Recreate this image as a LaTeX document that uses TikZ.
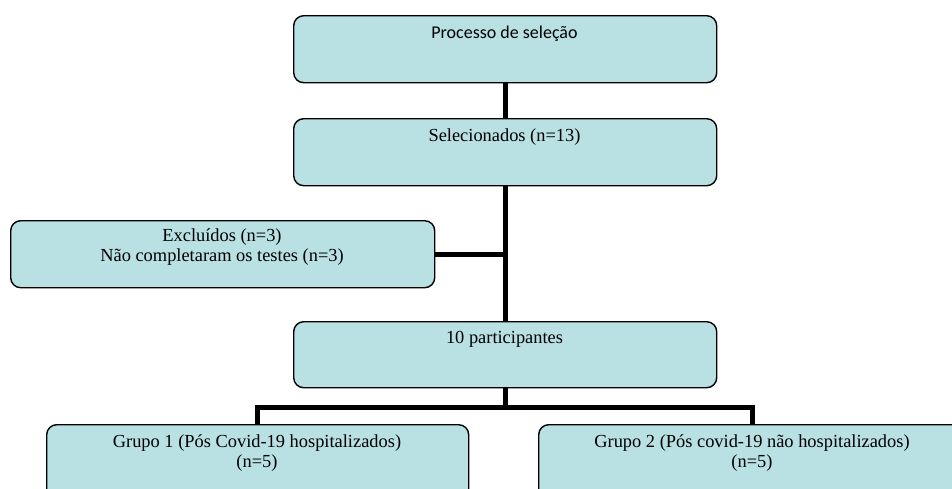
\documentclass[tikz,border=0pt]{standalone}
\usepackage{fontspec}
\setmainfont{Liberation Serif}
\newfontfamily\calib{Carlito}
\definecolor{boxfill}{RGB}{185,224,227}
\begin{document}
\begin{tikzpicture}[x=1pt,y=-1pt,
  fbox/.style={draw=black,line width=1.4pt,fill=boxfill,rounded corners=10pt,
    minimum width=423pt,minimum height=67pt,inner sep=0pt,anchor=north west},
  lbl/.style={align=center,inner sep=0pt,font=\fontsize{18.4}{20}\selectfont},
  conn/.style={line width=5pt}]
\useasboundingbox (0,0) rectangle (952,488);
\clip (0,0) rectangle (952,488);
\node[fbox] (proc) at (293,15) {};
\node[fbox] (sel) at (293,118) {};
\node[fbox,minimum width=424pt] (exc) at (10,220) {};
\node[fbox,minimum height=66pt] (part) at (293,321) {};
\node[fbox,minimum width=422pt,minimum height=75pt] (g1) at (46,424) {};
\node[fbox,minimum width=428pt,minimum height=75pt] (g2) at (538,424) {};

\node[lbl,font=\calib\fontsize{18}{20}\selectfont] (tproc) at (504.5,34) {Processo de seleção};
\node[lbl] (tsel) at (504.5,137) {Selecionados (n=13)};
\node[lbl] (texc) at (222,247) {Excluídos (n=3)\\Não completaram os testes (n=3)};
\node[lbl] (tpart) at (504.5,339) {10 participantes};
\node[lbl] (tg1) at (257,453) {Grupo 1 (Pós Covid-19 hospitalizados)\\(n=5)};
\node[lbl] (tg2) at (752,453) {Grupo 2 (Pós covid-19 não hospitalizados)\\(n=5)};

\coordinate (cx) at (505,0);
\coordinate (j2) at (505,407.5);
\draw[conn] (proc.south -| cx) -- (sel.north -| cx);
\draw[conn] (sel.south -| cx) -- (part.north -| cx);
\draw[conn] (exc.east) -- (exc.east -| cx);
\draw[conn] (part.south -| j2) -- (j2);
\draw[conn] (g1.north) |- (j2) -| (g2.north);
\end{tikzpicture}
\end{document}
